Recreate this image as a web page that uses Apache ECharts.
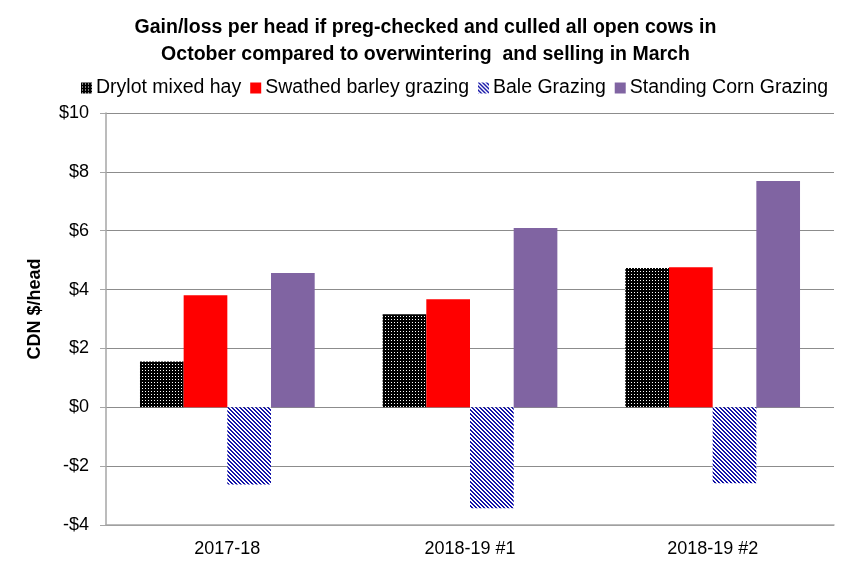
<!DOCTYPE html>
<html>
<head>
<meta charset="utf-8">
<script src="https://cdn.jsdelivr.net/npm/echarts@6/dist/echarts.min.js"></script>
<style>
  html, body { margin: 0; padding: 0; background: #fff; }
  #chart { width: 851px; height: 578px; }
</style>
</head>
<body>
<div id="chart"></div>
<script>
var seasons = ['2017-18', '2018-19 #1', '2018-19 #2'];
var drylot = [1.56, 3.16, 4.73];
var swathed = [3.81, 3.67, 4.76];
var bale = [-2.62, -3.43, -2.58];
var corn = [4.56, 6.09, 7.69];

var font = '"Liberation Sans", Arial, sans-serif';

// black with white dots
function dotPattern() {
  var c = document.createElement('canvas');
  c.width = 3; c.height = 3;
  var ctx = c.getContext('2d');
  ctx.fillStyle = '#000';
  ctx.fillRect(0, 0, 3, 3);
  ctx.fillStyle = '#fff';
  ctx.fillRect(1, 1, 1, 1);
  return c;
}

// blue stripes running down to the right
function stripePattern() {
  var n = 4;
  var c = document.createElement('canvas');
  c.width = n; c.height = n;
  var ctx = c.getContext('2d');
  ctx.fillStyle = '#fff';
  ctx.fillRect(0, 0, n, n);
  ctx.fillStyle = '#1414a8';
  for (var y = 0; y < n; y++) {
    for (var x = 0; x < n; x++) {
      var d = ((x - y) % n + n) % n;
      if (d < 2) ctx.fillRect(x, y, 1, 1);
    }
  }
  return c;
}

var chart = echarts.init(document.getElementById('chart'));

chart.setOption({
  animation: false,
  title: {
    text: 'Gain/loss per head if preg-checked and culled all open cows in\nOctober compared to overwintering  and selling in March',
    left: 'center',
    top: 9,
    textStyle: {
      fontFamily: font,
      fontSize: 19.5,
      fontWeight: 'bold',
      color: '#000',
      lineHeight: 27
    }
  },
  legend: {
    top: 73,
    left: 76,
    itemWidth: 11,
    itemHeight: 11,
    itemGap: 9,
    icon: 'rect',
    textStyle: { fontFamily: font, fontSize: 19.5, color: '#000', padding: [0, 0, 0, -1] },
    data: ['Drylot mixed hay', 'Swathed barley grazing', 'Bale Grazing', 'Standing Corn Grazing']
  },
  grid: { left: 106, right: 17, top: 113, bottom: 53 },
  xAxis: {
    type: 'category',
    data: seasons,
    axisLine: { onZero: false, lineStyle: { color: '#a6a6a6', width: 1.5 } },
    axisTick: { show: false },
    axisLabel: { fontFamily: font, fontSize: 18, color: '#000', margin: 15 }
  },
  yAxis: {
    type: 'value',
    min: -4,
    max: 10,
    interval: 2,
    name: 'CDN $/head',
    nameLocation: 'middle',
    nameGap: 62,
    nameTextStyle: { fontFamily: font, fontSize: 18, fontWeight: 'bold', color: '#000', padding: [0, 0, 0, 20] },
    axisLine: { show: true, lineStyle: { color: '#a6a6a6', width: 1.5 } },
    axisTick: { show: true, length: 6, lineStyle: { color: '#a6a6a6' } },
    axisLabel: {
      fontFamily: font, fontSize: 18, color: '#000', margin: 17,
      formatter: function (v) { return v < 0 ? '-$' + (-v) : '$' + v; }
    },
    splitLine: { lineStyle: { color: '#8c8c8c', width: 1.2 } }
  },
  series: [
    {
      name: 'Drylot mixed hay', type: 'bar', data: drylot,
      barGap: '0%', barCategoryGap: '28%',
      itemStyle: { color: { image: dotPattern(), repeat: 'repeat' } }
    },
    {
      name: 'Swathed barley grazing', type: 'bar', data: swathed,
      itemStyle: { color: '#ff0000' }
    },
    {
      name: 'Bale Grazing', type: 'bar', data: bale,
      itemStyle: { color: { image: stripePattern(), repeat: 'repeat' } }
    },
    {
      name: 'Standing Corn Grazing', type: 'bar', data: corn,
      itemStyle: { color: '#8064a2' }
    }
  ]
});
</script>
</body>
</html>
